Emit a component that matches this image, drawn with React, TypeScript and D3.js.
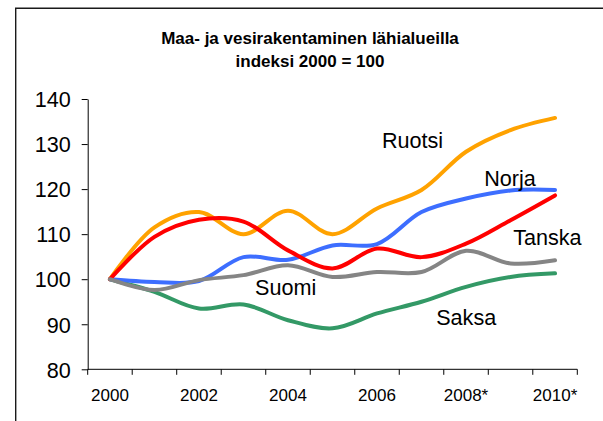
import React, { useEffect, useRef } from "react";
import * as d3 from "d3";

const years = ["2000", "2001", "2002", "2003", "2004", "2005", "2006", "2007", "2008", "2009", "2010"];
const yearLabels = ["2000", "", "2002", "", "2004", "", "2006", "", "2008*", "", "2010*"];
const yTicks = [80, 90, 100, 110, 120, 130, 140];

const ruotsi = [100, 111.5, 114.9, 110, 115.2, 110, 115.7, 119.8, 128.3, 133.1, 135.8];
const norja = [100, 99.4, 99.6, 104.9, 104.3, 107.5, 107.8, 114.9, 117.9, 119.7, 119.8];
const tanska = [100, 109.4, 113.2, 112.8, 106.4, 102.4, 106.8, 104.9, 107.9, 113.1, 118.6];
const suomi = [100, 97.6, 99.8, 100.9, 103.1, 100.5, 101.6, 101.6, 106.3, 103.5, 104.2];
const saksa = [100, 97.2, 93.5, 94.4, 90.9, 89.1, 92.4, 95, 98.3, 100.5, 101.3];

// drawing order matters for the overlaps
const series = [
  { name: "Saksa", values: saksa, color: "#339966" },
  { name: "Ruotsi", values: ruotsi, color: "#FFA200" },
  { name: "Norja", values: norja, color: "#3D6EFF" },
  { name: "Tanska", values: tanska, color: "#FF0000" },
  { name: "Suomi", values: suomi, color: "#858585" },
];

// label anchors: [year index (fractional), value]
const labels = [
  { name: "Ruotsi", at: [6.11, 129.06] },
  { name: "Norja", at: [8.41, 120.6] },
  { name: "Tanska", at: [9.06, 107.5] },
  { name: "Suomi", at: [3.26, 96.5] },
  { name: "Saksa", at: [7.33, 89.8] },
];

const FONT = "'Liberation Sans', Arial, sans-serif";

export default function App() {
  const svgRef = useRef<SVGSVGElement>(null);

  useEffect(() => {
    const width = 603;
    const height = 421;

    const x = d3.scaleBand().domain(years).range([87.7, 577.3]).padding(0);
    const xc = (i: number) => (x(years[0]) as number) + x.bandwidth() * (i + 0.5);
    const y = d3.scaleLinear().domain([80, 140]).range([369.3, 99]);

    const svg = d3.select(svgRef.current).attr("width", width).attr("height", height);
    svg.selectAll("*").remove();

    svg.append("rect").attr("width", width).attr("height", height).attr("fill", "#fff");

    // frame
    svg
      .append("path")
      .attr("d", `M15.7,${height + 5} V8.3 H${width + 5}`)
      .attr("fill", "none")
      .attr("stroke", "#1a1a1a")
      .attr("stroke-width", 1.4);

    // title
    const title = svg
      .append("text")
      .attr("text-anchor", "middle")
      .attr("font-family", FONT)
      .attr("font-weight", "bold")
      .attr("font-size", 17)
      .attr("fill", "#000");
    title.append("tspan").attr("x", 310).attr("y", 44).text("Maa- ja vesirakentaminen lähialueilla");
    title.append("tspan").attr("x", 310).attr("y", 66.5).text("indeksi 2000 = 100");

    // y axis
    const yAxis = svg
      .append("g")
      .attr("transform", `translate(87.7,0)`)
      .call(d3.axisLeft(y).tickValues(yTicks).tickSize(6).tickPadding(11).tickSizeOuter(0));
    yAxis.select(".domain").attr("stroke", "#000");
    yAxis.selectAll("line").attr("stroke", "#000");
    yAxis
      .selectAll("text")
      .attr("font-family", FONT)
      .attr("font-size", 21.6)
      .attr("fill", "#000")
      .attr("dy", "0.36em");

    // x axis
    const xg = svg.append("g").attr("transform", `translate(0,${y(80)})`);
    const [x0, x1] = x.range();
    xg.append("line").attr("x1", x0).attr("x2", x1).attr("stroke", "#000");
    const bounds = years.map((d) => x(d) as number).concat([x1]);
    xg.selectAll("line.tick")
      .data(bounds)
      .join("line")
      .attr("class", "tick")
      .attr("x1", (d) => d)
      .attr("x2", (d) => d)
      .attr("y1", 0)
      .attr("y2", 5.5)
      .attr("stroke", "#000");
    xg.selectAll("text")
      .data(years)
      .join("text")
      .attr("x", (d) => (x(d) as number) + x.bandwidth() / 2)
      .attr("y", 31.4)
      .attr("text-anchor", "middle")
      .attr("font-family", FONT)
      .attr("font-size", 17)
      .attr("fill", "#000")
      .text((d, i) => yearLabels[i]);

    // lines
    const line = d3
      .line<number>()
      .x((d, i) => xc(i))
      .y((d) => y(d))
      .curve(d3.curveCatmullRom.alpha(0.5));

    svg
      .append("g")
      .selectAll("path")
      .data(series)
      .join("path")
      .attr("d", (s) => line(s.values))
      .attr("fill", "none")
      .attr("stroke", (s) => s.color)
      .attr("stroke-width", 4)
      .attr("stroke-linejoin", "round")
      .attr("stroke-linecap", "round");

    // series labels
    svg
      .append("g")
      .selectAll("text")
      .data(labels)
      .join("text")
      .attr("x", (d) => xc(d.at[0]))
      .attr("y", (d) => y(d.at[1]))
      .attr("font-family", FONT)
      .attr("font-size", 21.6)
      .attr("fill", "#000")
      .text((d) => d.name);
  }, []);

  return <svg ref={svgRef} style={{ position: "absolute", left: 0, top: 0 }}></svg>;
}
